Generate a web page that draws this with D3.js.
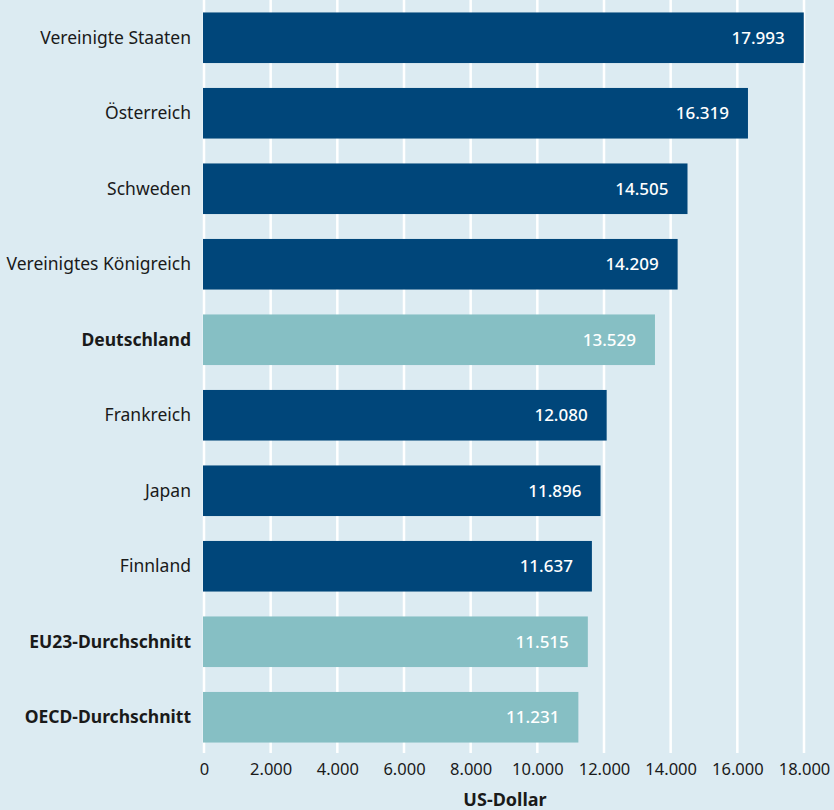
<!DOCTYPE html>
<html>
<head>
<meta charset="utf-8">
<script src="https://cdn.jsdelivr.net/npm/d3@7"></script>
<style>
  body { margin: 0; background: #dcebf2; }
  svg { display: block; font-family: "Noto Sans", sans-serif; }
</style>
</head>
<body>
<div id="chart"></div>
<script>
// Daten
const laender = ["Vereinigte Staaten", "Österreich", "Schweden", "Vereinigtes Königreich", "Deutschland",
    "Frankreich", "Japan", "Finnland", "EU23-Durchschnitt", "OECD-Durchschnitt"];
const ausgaben = [17993, 16319, 14505, 14209, 13529, 12080, 11896, 11637, 11515, 11231];
const hervorgehoben = ["Deutschland", "EU23-Durchschnitt", "OECD-Durchschnitt"];
const xTicks = [0, 2000, 4000, 6000, 8000, 10000, 12000, 14000, 16000, 18000];

const width = 834, height = 810;
const data = laender.map((d, i) => ({ land: d, wert: ausgaben[i] }));

const fmt = v => d3.format(",")(v).replace(/,/g, ".");

const svg = d3.select("#chart").append("svg")
    .attr("width", width)
    .attr("height", height);

svg.append("rect").attr("width", width).attr("height", height).attr("fill", "#dcebf2");

// Skalen
const x = d3.scaleLinear().domain([0, 18000]).range([204, 804]);
const y = d3.scaleBand().domain(laender).range([0, 755]).paddingInner(0.33).paddingOuter(0.165);

// Gitterlinien
svg.append("g")
    .selectAll("line")
    .data(xTicks)
    .enter()
    .append("line")
    .attr("x1", d => x(d)).attr("x2", d => x(d))
    .attr("y1", 0).attr("y2", 753)
    .attr("stroke", "#ffffff")
    .attr("stroke-width", 2.5);

// Balken
svg.append("g")
    .selectAll("rect")
    .data(data)
    .enter()
    .append("rect")
    .attr("x", x(0) - 1)
    .attr("y", d => y(d.land))
    .attr("width", d => x(d.wert) - x(0) + 1)
    .attr("height", y.bandwidth())
    .attr("fill", d => hervorgehoben.includes(d.land) ? "#86bfc4" : "#00467a");

// Werte
svg.append("g")
    .selectAll("text")
    .data(data)
    .enter()
    .append("text")
    .attr("x", d => x(d.wert) - 19)
    .attr("y", d => y(d.land) + y.bandwidth() / 2)
    .attr("dy", "0.35em")
    .attr("text-anchor", "end")
    .attr("fill", "#ffffff")
    .style("font-size", "17px")
    .style("font-weight", "500")
    .text(d => fmt(d.wert));

// Kategorien
svg.append("g")
    .selectAll("text")
    .data(data)
    .enter()
    .append("text")
    .attr("x", 191)
    .attr("y", d => y(d.land) + y.bandwidth() / 2)
    .attr("dy", "0.35em")
    .attr("text-anchor", "end")
    .attr("fill", "#1a1a1a")
    .style("font-size", "17.5px")
    .style("font-weight", d => hervorgehoben.includes(d.land) ? "bold" : "normal")
    .text(d => d.land);

// X-Achse
const axis = svg.append("g")
    .attr("transform", "translate(0,753)")
    .call(d3.axisBottom(x).tickValues(xTicks).tickSize(0).tickPadding(10).tickFormat(fmt));
axis.select(".domain").remove();
axis.selectAll("text")
    .attr("fill", "#1a1a1a")
    .style("font-family", "\"Noto Sans\", sans-serif")
    .style("font-size", "16.5px");

svg.append("text")
    .attr("x", x(9000) + 1)
    .attr("y", 806)
    .attr("text-anchor", "middle")
    .attr("fill", "#1a1a1a")
    .style("font-size", "18px")
    .style("font-weight", "bold")
    .text("US-Dollar");
</script>
</body>
</html>
